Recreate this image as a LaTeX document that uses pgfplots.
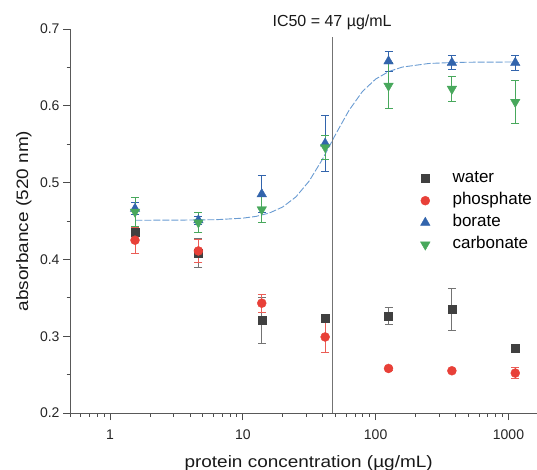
\documentclass[border=0pt]{standalone}
\usepackage{pgfplots}
\pgfplotsset{compat=1.18}
\usepackage{fontspec}
\setmainfont{Liberation Sans}
\newfontfamily\widefont{Liberation Sans}[FakeStretch=1.15]
\definecolor{cwater}{RGB}{64,64,64}
\definecolor{cwaterbar}{RGB}{115,115,115}
\definecolor{cphos}{RGB}{232,64,56}
\definecolor{cbor}{RGB}{50,100,172}
\definecolor{ccarb}{RGB}{72,168,92}
\definecolor{cfit}{RGB}{105,155,210}
\begin{document}
\begin{tikzpicture}
\useasboundingbox (-70pt,-57pt) rectangle (467pt,413pt);
\begin{axis}[
  scale only axis, width=467pt, height=384pt,
  xmode=log, xmin=0.5, xmax=1640, ymin=0.2, ymax=0.7,
  axis lines*=left,
  axis line style={black!65, line width=0.8pt},
  tick align=outside,
  major tick length=7pt, minor tick length=3.5pt,
  every tick/.style={black!70, line width=0.8pt},
  xtick={1,10,100,1000}, xticklabels={1,10,100,1000},
  minor xtick={0.5,0.6,0.7,0.8,0.9,2,3,4,5,6,7,8,9,20,30,40,50,60,70,80,90,200,300,400,500,600,700,800,900},
  ytick={0.2,0.3,0.4,0.5,0.6,0.7}, yticklabels={0.2,0.3,0.4,0.5,0.6,0.7},
  minor ytick={0.25,0.35,0.45,0.55,0.65},
  /pgf/number format/assume math mode=true,
  tick label style={font=\fontsize{14}{16}\selectfont, text=black!85},
  xticklabel style={yshift=-6pt},
  xlabel={\widefont protein concentration (µg/mL)},
  ylabel={\widefont absorbance (520 nm)},
  label style={font=\fontsize{16.5}{18}\selectfont, text=black!90},
  xlabel style={at={(axis description cs:0.511,0)}, anchor=base, yshift=-54pt},
  ylabel style={at={(axis description cs:-0.0899,0.5)}, anchor=base},
  legend style={at={(axis description cs:0.7506,0.631)}, anchor=north west,
    draw=none, fill=none, inner sep=0pt, outer sep=0pt, column sep=22.5pt, row sep=6pt,
    font=\fontsize{17}{19}\selectfont,
    nodes={inner sep=0pt, text height=12pt, text depth=4pt}},
  legend cell align=left,
  clip=false,
]
% fitted dose-response curve
\addplot[cfit, line width=0.9pt, dash pattern=on 7pt off 2pt, forget plot] table {
x y
1.55 0.4510
3.16 0.4511
6.31 0.4517
10.0 0.4537
12.59 0.4560
15.85 0.4604
19.95 0.4682
25.12 0.4814
31.62 0.5021
39.81 0.5305
47.0 0.5540
50.12 0.5633
63.1 0.5942
79.43 0.6185
100 0.6348
125.9 0.6447
158.5 0.6504
251.2 0.6551
398.1 0.6565
631 0.6569
1125 0.6570
};
% IC50 line
\addplot[black!55, line width=0.8pt, forget plot] coordinates {(47,0.2) (47,0.69)};
% water
\addplot[only marks, mark=square*, mark size=4pt, color=cwater,
  mark options={fill=cwater, draw=cwater},
  error bars/.cd, y dir=both, y explicit,
  error bar style={cwaterbar, line width=0.8pt},
  error mark options={rotate=90, mark size=4pt, cwaterbar, line width=0.8pt}]
  table[x=x, y=y, y error=e] {
x y e
1.543 0.435 0.008
4.63 0.408 0.019
13.89 0.321 0.030
41.67 0.323 0.004
125 0.326 0.011
375 0.335 0.027
1125 0.284 0.003
};
\addlegendentry{water}
% phosphate
\addplot[only marks, mark=*, mark size=4.5pt, color=cphos,
  mark options={fill=cphos, draw=cphos},
  error bars/.cd, y dir=both, y explicit,
  error bar style={cphos!85, line width=0.8pt},
  error mark options={rotate=90, mark size=4pt, cphos!85, line width=0.8pt}]
  table[x=x, y=y, y error=e] {
x y e
1.543 0.425 0.017
4.63 0.411 0.015
13.89 0.343 0.012
41.67 0.299 0.020
125 0.258 0.002
375 0.255 0.002
1125 0.252 0.007
};
\addlegendentry{phosphate}
% borate
\addplot[only marks, mark=triangle*, mark size=5.5pt, color=cbor,
  mark options={fill=cbor, draw=cbor},
  error bars/.cd, y dir=both, y explicit,
  error bar style={cbor, line width=0.8pt},
  error mark options={rotate=90, mark size=4pt, cbor, line width=0.8pt}]
  table[x=x, y=y, y error=e] {
x y e
1.543 0.466 0.008
4.63 0.451 0.005
13.89 0.485 0.024
41.67 0.551 0.037
125 0.658 0.013
375 0.656 0.009
1125 0.656 0.010
};
\addlegendentry{borate}
% carbonate
\addplot[only marks, mark=triangle*, mark size=5.5pt, color=ccarb,
  mark options={fill=ccarb, draw=ccarb, rotate=180},
  error bars/.cd, y dir=both, y explicit,
  error bar style={ccarb, line width=0.8pt},
  error mark options={rotate=90, mark size=4pt, ccarb, line width=0.8pt}]
  table[x=x, y=y, y error=e] {
x y e
1.543 0.462 0.019
4.63 0.448 0.013
13.89 0.465 0.017
41.67 0.546 0.016
125 0.626 0.030
375 0.622 0.016
1125 0.605 0.028
};
\addlegendentry{carbonate}
\node[anchor=base, font=\fontsize{16}{18}\selectfont, text=black!90, yshift=2pt] at (axis cs:47,0.7) {IC50 = 47 µg/mL};
\end{axis}
\end{tikzpicture}
\end{document}
